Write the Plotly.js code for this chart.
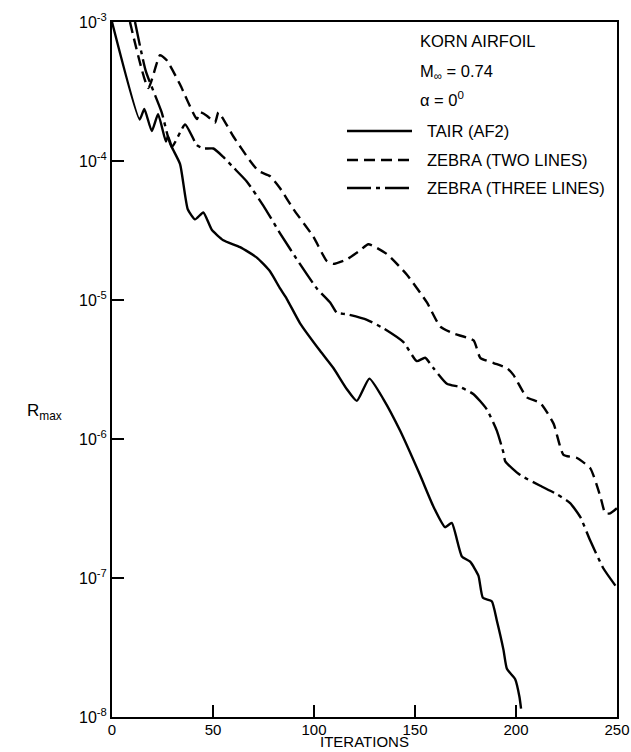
<!DOCTYPE html>
<html>
<head>
<meta charset="utf-8">
<script src="https://cdn.plot.ly/plotly-3.0.1.min.js"></script>
<style>html,body{margin:0;padding:0;background:#fff;}#chart{width:631px;height:752px;}</style>
</head>
<body>
<div id="chart"></div>
<script>
// TAIR (AF2) - solid
const tairIter = [0, 13.7, 16, 19.7, 22.8, 26.7, 27.7, 29.6, 33.7, 37.5, 41.1, 45.2, 49.4, 55.1, 63.4, 71.7, 78.2, 83.2, 86.5, 93.1, 103, 109.6, 116.2, 121.2, 127.4, 134.4, 142.6, 152.5, 159.1, 164.9, 168.2, 173.2, 177.3, 181.4, 183.6, 188, 190.5, 193.8, 195.5, 199.6, 201.7, 202.5];
const tairRes  = [1e-3, 1.99e-4, 2.37e-4, 1.64e-4, 2.17e-4, 1.38e-4, 1.51e-4, 1.26e-4, 9.5e-5, 4.5e-5, 3.8e-5, 4.26e-5, 3.2e-5, 2.69e-5, 2.4e-5, 2.02e-5, 1.61e-5, 1.21e-5, 1.02e-5, 6.8e-6, 4.31e-6, 3.24e-6, 2.29e-6, 1.88e-6, 2.72e-6, 1.93e-6, 1.15e-6, 5.5e-7, 3.27e-7, 2.32e-7, 2.49e-7, 1.43e-7, 1.31e-7, 1.04e-7, 7.2e-8, 6.8e-8, 4.95e-8, 3.04e-8, 2.22e-8, 1.87e-8, 1.4e-8, 1.15e-8];

// ZEBRA (TWO LINES) - dashed
const twoIter = [8.9, 18, 23.8, 27.1, 33.7, 42, 43.6, 46.9, 51, 52.7, 60.1, 68.4, 72.5, 78.3, 83.2, 89.8, 99.7, 106.3, 109.6, 116.2, 122.8, 126.9, 136.1, 146, 155.9, 162.5, 169, 179, 182.3, 188.9, 195.5, 198.8, 205.4, 212, 218.6, 223.5, 230.2, 236.8, 241.7, 244.2, 246.6, 250];
const twoRes  = [1e-3, 3.35e-4, 5.77e-4, 5.3e-4, 3.55e-4, 2.0e-4, 2.24e-4, 2.12e-4, 1.89e-4, 2.24e-4, 1.5e-4, 1.0e-4, 8.47e-5, 7.77e-5, 6.37e-5, 4.51e-5, 2.85e-5, 1.91e-5, 1.82e-5, 1.96e-5, 2.27e-5, 2.52e-5, 2.14e-5, 1.52e-5, 9.6e-6, 6.43e-6, 5.74e-6, 5.12e-6, 3.84e-6, 3.52e-6, 3.24e-6, 2.88e-6, 1.99e-6, 1.82e-6, 1.29e-6, 7.7e-7, 7.3e-7, 6.15e-7, 3.89e-7, 2.92e-7, 2.92e-7, 3.18e-7];

// ZEBRA (THREE LINES) - dash-dot
const threeIter = [11.4, 16.7, 24.6, 29.6, 36.2, 42, 45.2, 50.2, 55.1, 60.1, 66.7, 74.9, 83.2, 93.1, 101.4, 108, 111.3, 116.2, 126.2, 134.4, 144.3, 150.9, 155, 159.1, 165.8, 172.4, 179, 185.6, 190.5, 193.8, 194.7, 202.1, 212, 220.3, 226.8, 231.8, 236.8, 243.3, 250];
const threeRes  = [1e-3, 4.45e-4, 2.24e-4, 1.26e-4, 1.83e-4, 1.3e-4, 1.23e-4, 1.23e-4, 1.07e-4, 8.98e-5, 7.13e-5, 4.78e-5, 3.02e-5, 1.81e-5, 1.21e-5, 9.6e-6, 8.1e-6, 7.9e-6, 7.2e-6, 6.25e-6, 4.97e-6, 3.63e-6, 3.84e-6, 3.24e-6, 2.5e-6, 2.36e-6, 2.1e-6, 1.63e-6, 1.15e-6, 7.96e-7, 6.9e-7, 5.5e-7, 4.61e-7, 4.0e-7, 3.46e-7, 2.75e-7, 1.85e-7, 1.17e-7, 8.5e-8];

const yTickVals = [1e-8, 1e-7, 1e-6, 1e-5, 1e-4, 1e-3];
const yTickText = ['10<sup>-8</sup>', '10<sup>-7</sup>', '10<sup>-6</sup>', '10<sup>-5</sup>', '10<sup>-4</sup>', '10<sup>-3</sup>'];
const xTickVals = [0, 50, 100, 150, 200, 250];

const seriesNames = ['TAIR (AF2)', 'ZEBRA (TWO LINES)', 'ZEBRA (THREE LINES)'];

const FONT = 'Liberation Sans, Arial, sans-serif';
const lw = 2.4;
const DASH2 = '11px,6px';
const DASH3 = '24px,5px,4px,5px';

const traces = [
  {x: tairIter, y: tairRes, name: seriesNames[0], mode: 'lines', line: {color: '#000', width: lw, dash: 'solid', shape: 'spline', smoothing: 0.5}},
  {x: twoIter, y: twoRes, name: seriesNames[1], mode: 'lines', line: {color: '#000', width: lw, dash: DASH2, shape: 'spline', smoothing: 0.5}},
  {x: threeIter, y: threeRes, name: seriesNames[2], mode: 'lines', line: {color: '#000', width: lw, dash: DASH3, shape: 'spline', smoothing: 0.5}}
];

// helpers: paper coords from pixel positions of the reference
const L = 112, T = 22, W = 505, H = 695;
const px = v => (v - L) / W;
const py = v => (T + H - v) / H;

const legendY = [131, 160, 188];
const legendDash = ['solid', DASH2, DASH3];

const shapes = legendY.map((yy, i) => ({
  type: 'line', xref: 'paper', yref: 'paper',
  x0: px(347), x1: px(412), y0: py(yy), y1: py(yy),
  line: {color: '#000', width: lw, dash: legendDash[i]}
}));

const annFont = {family: FONT, size: 16.5, color: '#000'};
const annotations = [
  {text: 'KORN AIRFOIL', x: px(418), y: py(41)},
  {text: 'M<sub>∞</sub> = 0.74', x: px(418), y: py(72)},
  {text: 'α = 0<sup>0</sup>', x: px(418), y: py(99)}
].concat(legendY.map((yy, i) => ({text: seriesNames[i], x: px(425), y: py(yy)})))
 .map(a => Object.assign({xref: 'paper', yref: 'paper', xanchor: 'left', yanchor: 'middle', showarrow: false, font: annFont}, a));

annotations.push({text: 'R<sub>max</sub>', xref: 'paper', yref: 'paper', x: px(44), y: py(412), xanchor: 'center', yanchor: 'middle', showarrow: false, font: {family: FONT, size: 17, color: '#000'}});
annotations.push({text: 'ITERATIONS', xref: 'paper', yref: 'paper', x: px(364), y: py(752), xanchor: 'center', yanchor: 'bottom', showarrow: false, font: {family: FONT, size: 15, color: '#000'}});

const layout = {
  width: 631, height: 752,
  margin: {l: L, r: 631 - L - W, t: T, b: 752 - T - H},
  paper_bgcolor: '#fff', plot_bgcolor: '#fff',
  showlegend: false,
  font: {family: FONT, size: 16, color: '#000'},
  xaxis: {
    range: [0, 250], tickvals: xTickVals, ticks: 'inside', ticklen: 12, tickwidth: 1.5, tickcolor: '#000',
    showline: true, linecolor: '#000', linewidth: 2, mirror: true, showgrid: false, zeroline: false,
    tickfont: {family: FONT, size: 15}, ticklabelstandoff: -2
  },
  yaxis: {
    type: 'log', range: [-8, -3], tickvals: yTickVals, ticktext: yTickText, ticks: 'inside', ticklen: 12, tickwidth: 1.5, tickcolor: '#000',
    showline: true, linecolor: '#000', linewidth: 2, mirror: true, showgrid: false, zeroline: false,
    tickfont: {family: FONT, size: 16}
  },
  shapes: shapes,
  annotations: annotations
};

Plotly.newPlot('chart', traces, layout, {staticPlot: true, displayModeBar: false});
</script>
</body>
</html>
